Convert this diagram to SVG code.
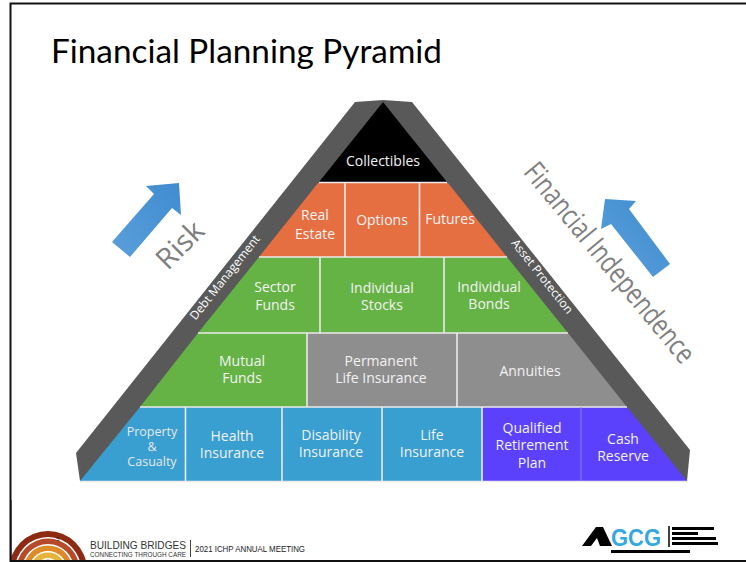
<svg xmlns="http://www.w3.org/2000/svg" width="746" height="562" viewBox="0 0 746 562">
<style>
text{font-family:"Open Sans","Noto Sans","Liberation Sans",sans-serif;text-anchor:middle}
.c{fill:#f2f2f2;font-size:14px}
.s{fill:#e8e8e8;font-size:12.5px}
.b{fill:#fff;font-size:12px}
.g{fill:#7f7f7f;font-size:29px}
.d{stroke:#eceaea;stroke-width:1.6;fill:none}
</style>
<defs>
<linearGradient id="ar1" x1="0" y1="1" x2="1" y2="0"><stop offset="0" stop-color="#5b9fdb"/><stop offset="1" stop-color="#3f8ccf"/></linearGradient>
</defs>
<rect width="746" height="562" fill="#fff"/>
<path d="M10.500 562V3.500H746M10 561H746" fill="none" stroke="#111" stroke-width="2"/>
<text id="title" x="51" y="63" style="text-anchor:start;font-family:Lato,'Open Sans',sans-serif;font-size:32px;fill:#000" textLength="391" lengthAdjust="spacingAndGlyphs">Financial Planning Pyramid</text>
<g id="frame-shape"><path d="M76 453 355 102 383 100 412 102 690 450 687 481H80Z" fill="#595959"/></g>
<g id="collectibles"><path d="M383 102 319 182H447Z" fill="#000"/><text class="c" x="383" y="166">Collectibles</text></g>
<g id="real-estate"><path d="M318 183H345V257H259Z" fill="#e66f42"/><text class="c" x="315" y="220">Real</text><text class="c" x="315" y="239">Estate</text></g>
<g id="options"><path d="M345 183H419V257H345Z" fill="#e66f42"/><text class="c" x="382" y="225">Options</text></g>
<g id="futures"><path d="M419 183H448L507 257H419Z" fill="#e66f42"/><text class="c" x="450" y="224">Futures</text></g>
<g id="sector-funds"><path d="M259 257H320V333H198Z" fill="#65b345"/><text class="c" x="275" y="292">Sector</text><text class="c" x="275" y="310">Funds</text></g>
<g id="individual-stocks"><path d="M320 257H444V333H320Z" fill="#65b345"/><text class="c" x="382" y="293">Individual</text><text class="c" x="382" y="310">Stocks</text></g>
<g id="individual-bonds"><path d="M444 257H507L568 333H444Z" fill="#65b345"/><text class="c" x="489" y="292">Individual</text><text class="c" x="489" y="309">Bonds</text></g>
<g id="mutual-funds"><path d="M198 333H307V407H140Z" fill="#65b345"/><text class="c" x="242" y="366">Mutual</text><text class="c" x="242" y="383">Funds</text></g>
<g id="permanent"><path d="M307 333H457V407H307Z" fill="#8e8e8e"/><text class="c" x="381" y="366">Permanent</text><text class="c" x="381" y="383">Life Insurance</text></g>
<g id="annuities"><path d="M457 333H568L627 407H457Z" fill="#8e8e8e"/><text class="c" x="530" y="376">Annuities</text></g>
<g id="property"><path d="M140 407H185V481H80Z" fill="#389fd0"/><text class="s" x="152" y="436">Property</text><text class="s" x="152" y="451">&amp;</text><text class="s" x="152" y="466">Casualty</text></g>
<g id="health"><path d="M185 407H282V481H185Z" fill="#389fd0"/><text class="c" x="232" y="441">Health</text><text class="c" x="232" y="458">Insurance</text></g>
<g id="disability"><path d="M282 407H382V481H282Z" fill="#389fd0"/><text class="c" x="331" y="440">Disability</text><text class="c" x="331" y="457">Insurance</text></g>
<g id="life"><path d="M382 407H482V481H382Z" fill="#389fd0"/><text class="c" x="432" y="440">Life</text><text class="c" x="432" y="457">Insurance</text></g>
<g id="qualified"><path d="M482 407H581V481H482Z" fill="#5b41fb"/><text class="c" x="532" y="433">Qualified</text><text class="c" x="532" y="450">Retirement</text><text class="c" x="532" y="468">Plan</text></g>
<g id="cash"><path d="M581 407H627L687 481H581Z" fill="#5b41fb"/><text class="c" x="623" y="444">Cash</text><text class="c" x="623" y="461">Reserve</text></g>
<g id="connectors">
<path class="d" d="M319 182.500H447M259 257H507M198 333H568M140 407H627M80 481.500H687"/>
<path class="d" d="M345 183V257M419.500 183V257M320 257V333M444 257V333M307 333V407M457 333V407M185.500 407V481M282 407V481M382 407V481M482 407V481"/>
<path d="M581 407V481" stroke="#8f7ffb" stroke-width="1" fill="none"/>
</g>
<text class="b" transform="translate(228 280) rotate(-51.500)">Debt Management</text>
<text class="b" transform="translate(539 279) rotate(51.500)">Asset Protection</text>
<text class="g" transform="translate(187 252) rotate(-45)">Risk</text>
<text class="g" transform="translate(602 269) rotate(50.500)" textLength="250" lengthAdjust="spacingAndGlyphs">Financial Independence</text>
<path id="arrow-risk" d="M112 242 154 194 146 186 179 183 181 215 172 208 130 257Z" fill="url(#ar1)"/>
<path id="arrow-fi" d="M670 264 629 209 636 201 605 199 601 229 611 224 653 277Z" fill="url(#ar1)"/>
<g id="footer-logo">
<circle cx="48" cy="570" r="39" fill="#8f2a12"/><circle cx="48" cy="570" r="33" fill="#fff"/><circle cx="48" cy="570" r="31.500" fill="#b84a2c"/><circle cx="48" cy="570" r="26" fill="#fff"/><circle cx="48" cy="570" r="24.500" fill="#dd8a27"/><circle cx="48" cy="570" r="19" fill="#fff"/><circle cx="48" cy="570" r="17.500" fill="#e5b53a"/><circle cx="48" cy="570" r="12" fill="#fff"/><circle cx="48" cy="570" r="10.500" fill="#7a8a30"/><circle cx="48" cy="570" r="6" fill="#fff"/>
<path d="M0 500H10V562H0ZM10 561H100V562H10Z" fill="#fff"/><path d="M10.500 500V562M10 561H100" stroke="#111" stroke-width="2" fill="none"/>
<text x="58" y="541" style="font-size:6px;fill:#222;font-family:'Liberation Sans',sans-serif">5</text>
<text x="90" y="549" style="text-anchor:start;font-family:'Liberation Sans',sans-serif;font-size:10.500px;fill:#333" textLength="96" lengthAdjust="spacingAndGlyphs">BUILDING BRIDGES</text>
<text x="90" y="557" style="text-anchor:start;font-family:'Liberation Sans',sans-serif;font-size:6.500px;fill:#333" textLength="96" lengthAdjust="spacingAndGlyphs">CONNECTING THROUGH CARE</text>
<path d="M190.500 540V557" stroke="#444" stroke-width="1"/>
<text x="195" y="552" style="text-anchor:start;font-family:'Liberation Sans',sans-serif;font-size:8.500px;fill:#222" textLength="110" lengthAdjust="spacingAndGlyphs">2021 ICHP ANNUAL MEETING</text>
</g>
<g id="footer-gcg">
<path d="M582 546 596 527H603L612 546H600L597 538 591 546Z" fill="#000"/>
<text x="636" y="546" style="font-family:'Liberation Sans',sans-serif;font-weight:700;font-size:24px;fill:#35a8e0" textLength="50" lengthAdjust="spacingAndGlyphs">GCG</text>
<path d="M669 526V547" stroke="#000" stroke-width="1.500"/>
<path d="M672 527H714V530H672ZM672 532H698V535H672ZM672 537H716V540H672ZM672 542H718V545H672ZM611 550H690V553H611Z" fill="#000"/>
</g>
</svg>
